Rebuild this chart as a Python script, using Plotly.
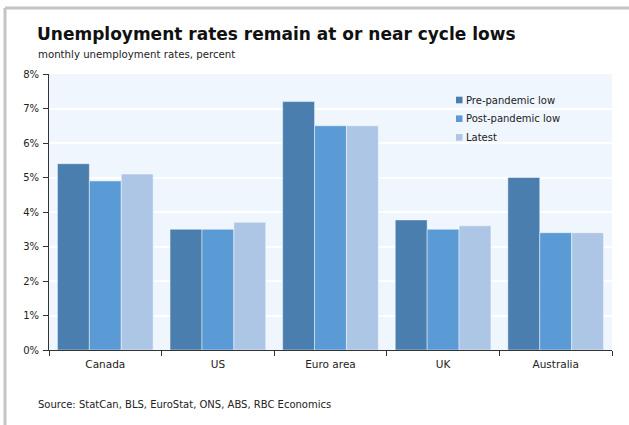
import plotly.graph_objects as go

# Monthly unemployment rates, percent
countries = ["Canada", "US", "Euro area", "UK", "Australia"]
pre_pandemic_low = [5.4, 3.5, 7.2, 3.77, 5.0]
post_pandemic_low = [4.9, 3.5, 6.5, 3.5, 3.4]
latest = [5.1, 3.7, 6.5, 3.6, 3.4]

series = [
    ("Pre-pandemic low", pre_pandemic_low, "#4A7EAF"),
    ("Post-pandemic low", post_pandemic_low, "#5A9BD6"),
    ("Latest", latest, "#ADC6E6"),
]

W, H = 629, 425
L, R, T, B = 49, 17, 74, 75
pw, ph = W - L - R, H - T - B


def px(x):
    return (x - L) / pw


def py(y):
    return (H - B - y) / ph


fig = go.Figure()
for name, vals, color in series:
    fig.add_trace(go.Bar(
        x=countries, y=vals, name=name,
        marker=dict(color=color, line=dict(color="rgba(255,255,255,0.45)", width=1)),
    ))

font = "DejaVu Sans"
shapes = [
    dict(type="line", xref="paper", yref="paper",
         x0=px(5), x1=px(629), y0=py(8), y1=py(8),
         line=dict(color="#C4C4C4", width=3)),
    dict(type="line", xref="paper", yref="paper",
         x0=px(5), x1=px(5), y0=py(8), y1=py(425),
         line=dict(color="#C4C4C4", width=3)),
]
annotations = [
    dict(text="<b>Unemployment rates remain at or near cycle lows</b>",
         xref="paper", yref="paper", x=px(35), y=py(46),
         xanchor="left", yanchor="bottom", showarrow=False,
         font=dict(size=17, color="#111", family=font)),
    dict(text="monthly unemployment rates, percent",
         xref="paper", yref="paper", x=px(36), y=py(62),
         xanchor="left", yanchor="bottom", showarrow=False,
         font=dict(size=10.2, color="#222", family=font)),
    dict(text="Source: StatCan, BLS, EuroStat, ONS, ABS, RBC Economics",
         xref="paper", yref="paper", x=px(36), y=py(412),
         xanchor="left", yanchor="bottom", showarrow=False,
         font=dict(size=10, color="#222", family=font)),
]

# Compact legend: small colour squares with labels
for i, (name, _, color) in enumerate(series):
    cy = 100 + i * 18.7
    shapes.append(dict(type="rect", xref="paper", yref="paper",
                       x0=px(456), x1=px(462.5), y0=py(cy - 3.3), y1=py(cy + 3.3),
                       fillcolor=color, line=dict(width=0)))
    annotations.append(dict(text=name, xref="paper", yref="paper",
                            x=px(464), y=py(cy), xanchor="left", yanchor="middle",
                            showarrow=False,
                            font=dict(size=10, color="#222", family=font)))

fig.update_layout(
    width=W, height=H,
    margin=dict(l=L, r=R, t=T, b=B),
    paper_bgcolor="white",
    plot_bgcolor="#EFF6FD",
    barmode="group",
    bargap=0.15,
    bargroupgap=0,
    font=dict(family=font, size=10, color="#222"),
    showlegend=False,
    xaxis=dict(
        showline=True, linecolor="#333", linewidth=1,
        ticks="outside", ticklen=5, tickcolor="#333", tickson="boundaries",
        showgrid=False, tickfont=dict(size=10.5, color="#222"),
        ticklabelstandoff=4,
    ),
    yaxis=dict(
        range=[0, 8], dtick=1, ticksuffix="%",
        showline=True, linecolor="#333", linewidth=1,
        ticks="outside", ticklen=5, tickcolor="#333",
        showgrid=True, gridcolor="white", gridwidth=1.5,
        zeroline=False, tickfont=dict(size=10, color="#222"),
        ticklabelstandoff=2,
    ),
    shapes=shapes,
    annotations=annotations,
)

fig.write_html("out.html")
